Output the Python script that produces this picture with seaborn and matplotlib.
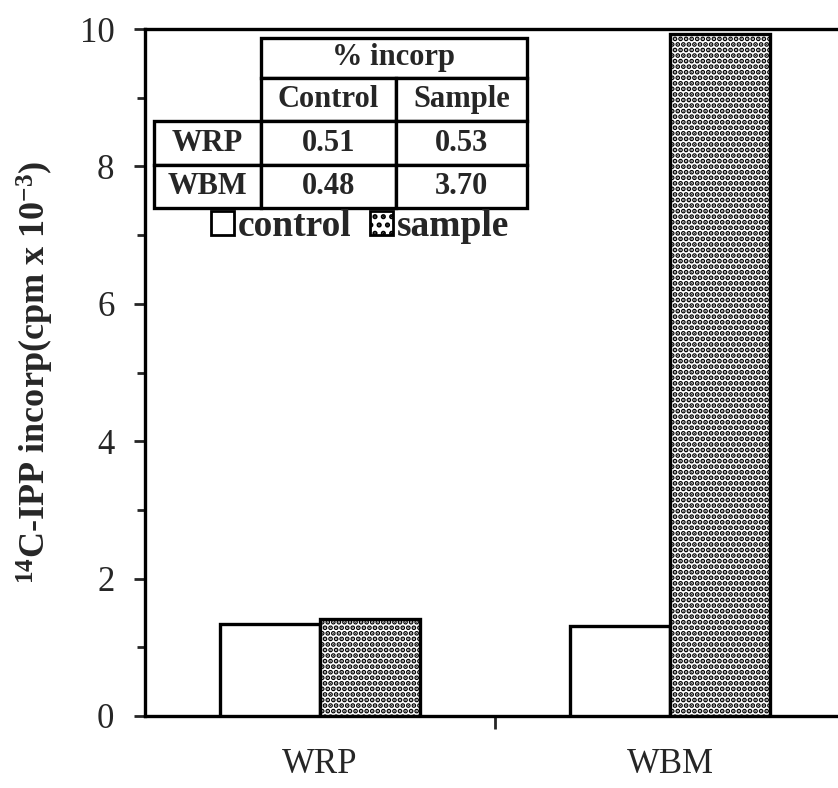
import matplotlib
matplotlib.use("Agg")
import matplotlib.pyplot as plt
from matplotlib.patches import Patch
from matplotlib.ticker import FixedLocator
import seaborn as sns
import pandas as pd

# ---- data ----
categories = ["WRP", "WBM"]
groups = ["control", "sample"]
control_vals = [1.34, 1.31]
sample_vals = [1.41, 9.93]

table_header = "% incorp"
table_cols = ["Control", "Sample"]
table_rows = ["WRP", "WBM"]
pct_control = ["0.51", "0.48"]
pct_sample = ["0.53", "3.70"]

yticks = [0, 2, 4, 6, 8, 10]
yminor = [1, 3, 5, 7, 9]

df = pd.DataFrame({
    "cat": categories * 2,
    "grp": [groups[0]] * len(categories) + [groups[1]] * len(categories),
    "val": control_vals + sample_vals,
})

sns.set_style("ticks")
plt.rcParams["font.family"] = ["Liberation Serif", "DejaVu Serif"]
plt.rcParams["mathtext.fontset"] = "custom"
plt.rcParams["mathtext.rm"] = "Liberation Serif:bold"
plt.rcParams["mathtext.default"] = "rm"
plt.rcParams["hatch.linewidth"] = 2.5
plt.rcParams["hatch.color"] = "black"

fig = plt.figure(figsize=(8.38, 7.88), dpi=100)
ax = fig.add_axes([145 / 838, 72 / 788, 693 / 838, 687 / 788])

sns.barplot(data=df, x="cat", y="val", hue="grp", order=categories, hue_order=groups,
            palette={"control": "white", "sample": "white"}, edgecolor="black",
            linewidth=2.4, width=0.57, legend=False, ax=ax, zorder=3)

for bar in ax.containers[1]:
    bar.set_hatch("...")

ax.set_xlim(-0.5, 1.48)
ax.set_ylim(0, 10)
ax.set_yticks(yticks)
ax.yaxis.set_minor_locator(FixedLocator(yminor))
ax.set_xticks([0, 1])
ax.set_xticklabels(categories)
ax.xaxis.set_minor_locator(FixedLocator([0.5]))

ax.tick_params(axis="y", which="major", length=8, width=2, direction="out", labelsize=25, pad=14)
ax.tick_params(axis="y", which="minor", length=6, width=2, direction="out")
ax.tick_params(axis="x", which="major", length=0, labelsize=25, pad=23)
ax.tick_params(axis="x", which="minor", length=9, width=2, direction="out")

for s in ["left", "bottom", "top"]:
    ax.spines[s].set_linewidth(2.4)
    ax.spines[s].set_color("black")
ax.spines["right"].set_visible(False)

ax.set_xlabel("")
ax.set_ylabel(r"$^{14}$C-IPP incorp(cpm x 10$^{-3}$)", fontsize=26, fontweight="bold")
ax.yaxis.set_label_coords(-0.128, 0.5)

# ---- inset table ----
t1 = ax.table(cellText=[[table_header]], cellLoc="center",
              bbox=[0.1674, 0.9287, 0.3838, 0.0582])
t1.auto_set_font_size(False)
cell_text = [[""] + table_cols] + [[r, c, s] for r, c, s in zip(table_rows, pct_control, pct_sample)]
t2 = ax.table(cellText=cell_text, cellLoc="center", colWidths=[107, 135, 131],
              bbox=[0.0130, 0.7394, 0.5382, 0.1893])
t2.auto_set_font_size(False)
for t in (t1, t2):
    for (r, c), cell in t.get_celld().items():
        cell.set_linewidth(2.4)
        cell.set_edgecolor("black")
        cell.set_facecolor("white")
        cell.get_text().set_fontsize(22)
        cell.get_text().set_fontweight("bold")
t2[0, 0].visible_edges = "open"
t2[0, 0].set_facecolor("none")

handles = [Patch(facecolor="white", edgecolor="black", linewidth=2),
           Patch(facecolor="white", edgecolor="black", linewidth=2, hatch="..")]
ax.legend(handles, groups, loc="upper left", bbox_to_anchor=(0.095, 0.738),
          frameon=False, ncol=2, prop={"size": 27, "weight": "bold"},
          handlelength=0.62, handleheight=0.62, handletextpad=0.1,
          columnspacing=0.5, borderpad=0, borderaxespad=0)

fig.savefig("out.png", dpi=100)
